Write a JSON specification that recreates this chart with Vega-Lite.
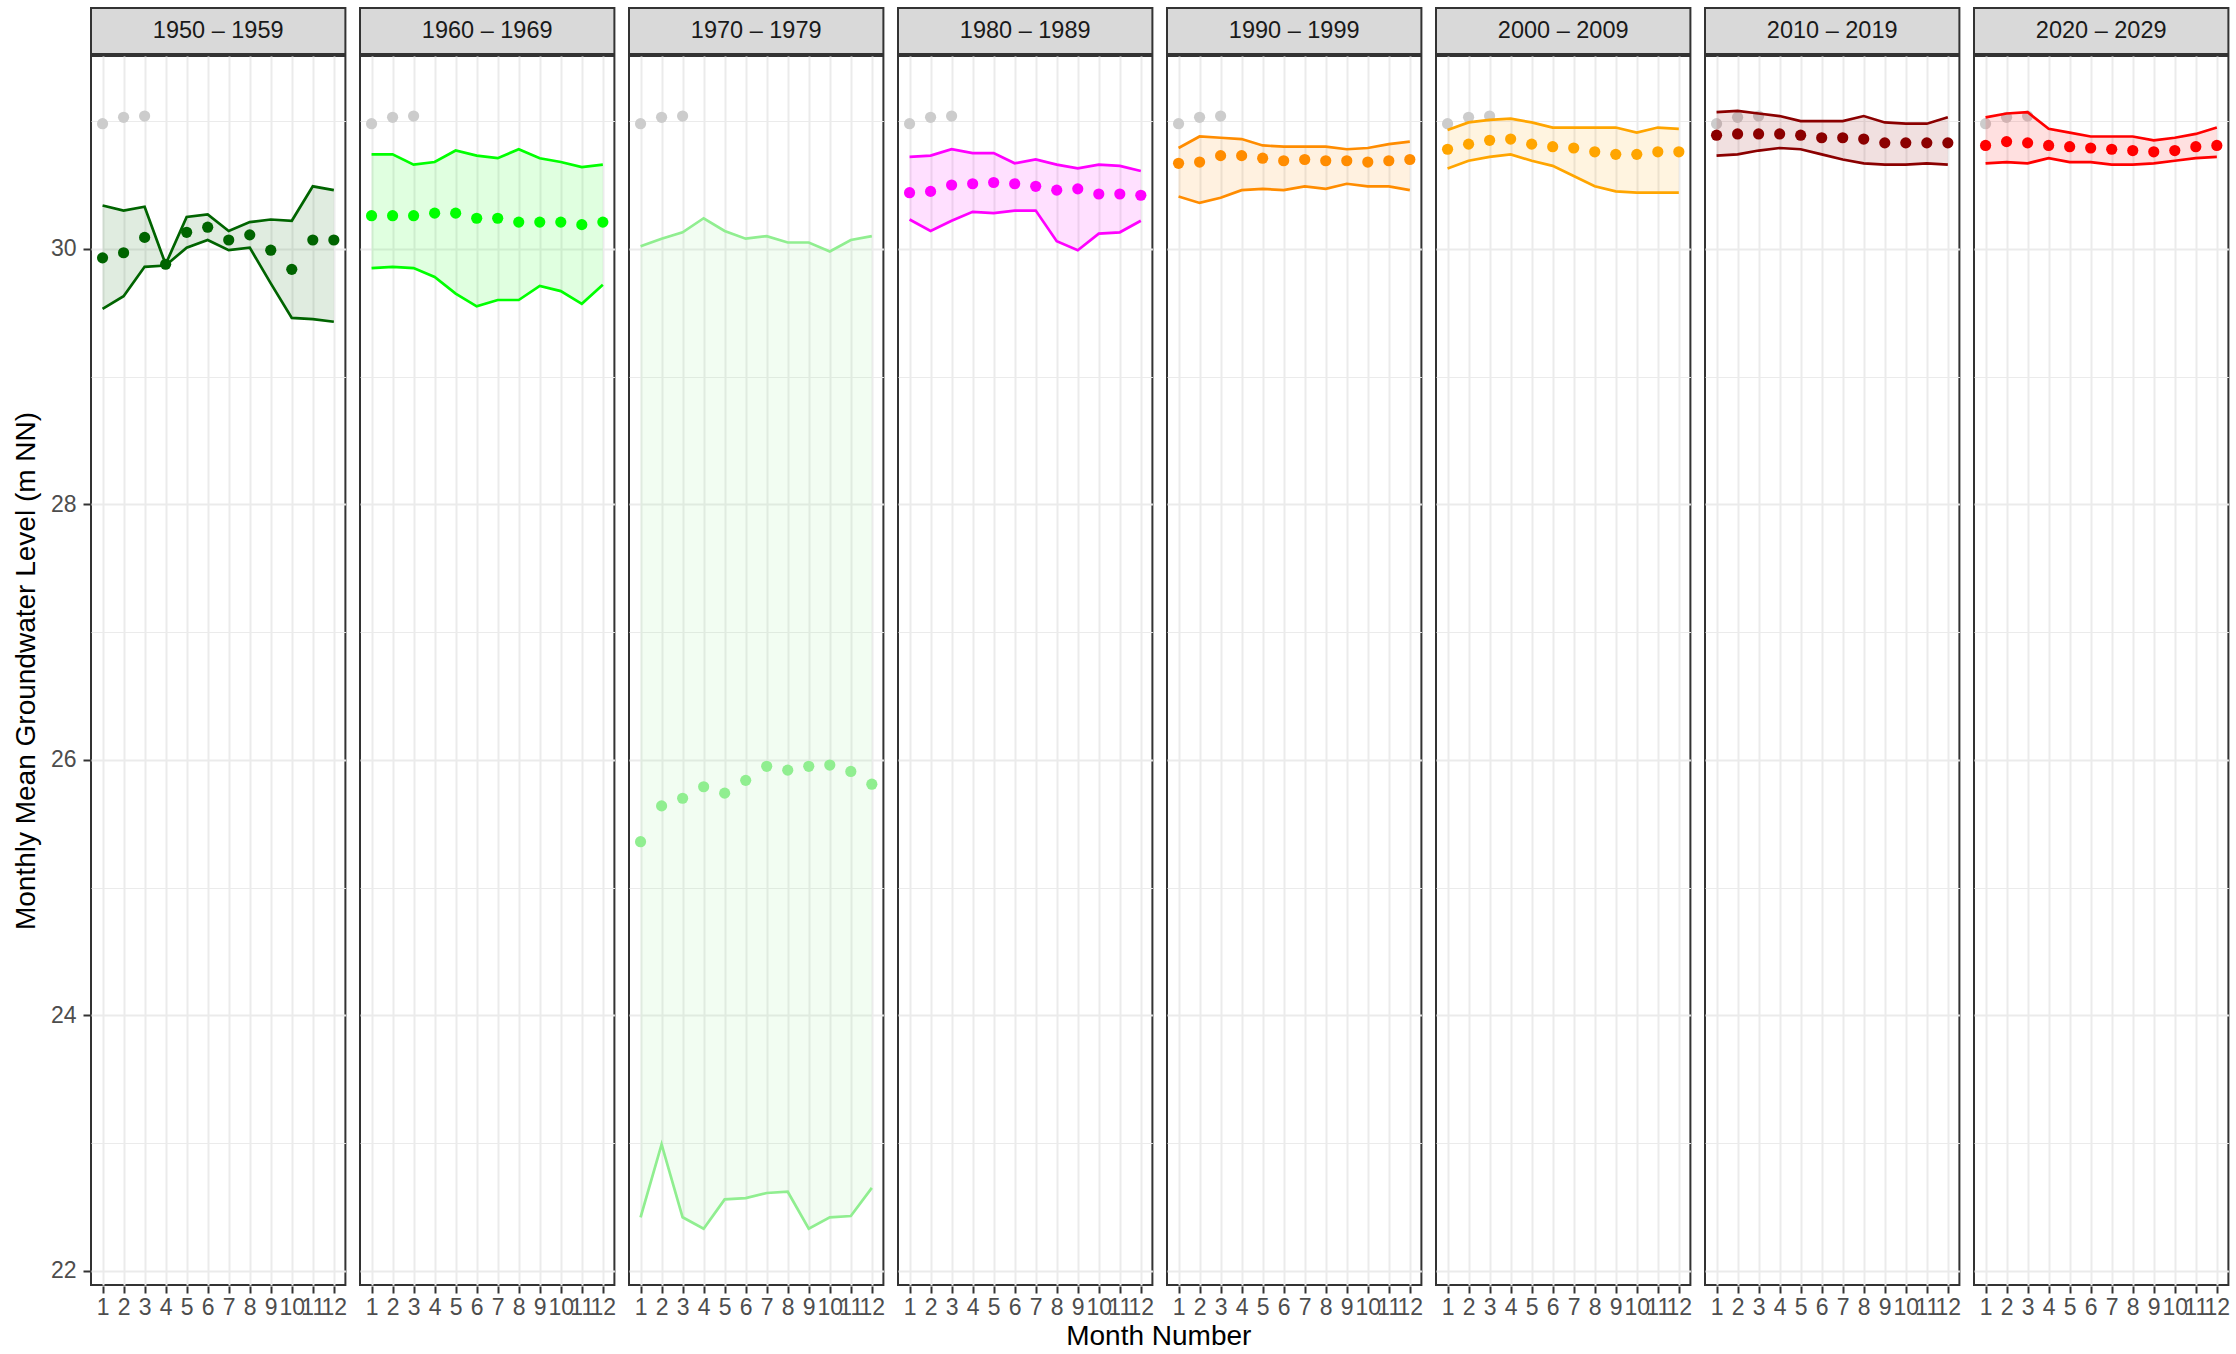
{
  "$schema": "https://vega.github.io/schema/vega-lite/v6.json",
  "padding": {"left": 12, "top": 7, "right": 5, "bottom": 4},
  "config": {"font": "Liberation Sans"},
  "title": {"text": "Month Number", "orient": "bottom", "anchor": "middle", "fontSize": 28, "fontWeight": "normal", "color": "#000000", "font": "Liberation Sans", "offset": 4, "dx": 38},
  "spacing": 0,
  "datasets": {
    "strips": [
      {"decade": "1950 – 1959"}, {"decade": "1960 – 1969"}, {"decade": "1970 – 1979"}, {"decade": "1980 – 1989"},
      {"decade": "1990 – 1999"}, {"decade": "2000 – 2009"}, {"decade": "2010 – 2019"}, {"decade": "2020 – 2029"}
    ],
    "gw": [
      {"decade": "1950 – 1959", "month": 1, "mean": 29.93, "lo": 29.53, "hi": 30.34, "cur": 30.98},
      {"decade": "1950 – 1959", "month": 2, "mean": 29.97, "lo": 29.63, "hi": 30.30, "cur": 31.03},
      {"decade": "1950 – 1959", "month": 3, "mean": 30.09, "lo": 29.86, "hi": 30.33, "cur": 31.04},
      {"decade": "1950 – 1959", "month": 4, "mean": 29.88, "lo": 29.87, "hi": 29.88, "cur": null},
      {"decade": "1950 – 1959", "month": 5, "mean": 30.13, "lo": 30.01, "hi": 30.25, "cur": null},
      {"decade": "1950 – 1959", "month": 6, "mean": 30.17, "lo": 30.07, "hi": 30.27, "cur": null},
      {"decade": "1950 – 1959", "month": 7, "mean": 30.07, "lo": 29.99, "hi": 30.14, "cur": null},
      {"decade": "1950 – 1959", "month": 8, "mean": 30.11, "lo": 30.01, "hi": 30.21, "cur": null},
      {"decade": "1950 – 1959", "month": 9, "mean": 29.99, "lo": 29.73, "hi": 30.23, "cur": null},
      {"decade": "1950 – 1959", "month": 10, "mean": 29.84, "lo": 29.46, "hi": 30.22, "cur": null},
      {"decade": "1950 – 1959", "month": 11, "mean": 30.07, "lo": 29.45, "hi": 30.49, "cur": null},
      {"decade": "1950 – 1959", "month": 12, "mean": 30.07, "lo": 29.43, "hi": 30.46, "cur": null},
      {"decade": "1960 – 1969", "month": 1, "mean": 30.26, "lo": 29.85, "hi": 30.74, "cur": 30.98},
      {"decade": "1960 – 1969", "month": 2, "mean": 30.26, "lo": 29.86, "hi": 30.74, "cur": 31.03},
      {"decade": "1960 – 1969", "month": 3, "mean": 30.26, "lo": 29.85, "hi": 30.66, "cur": 31.04},
      {"decade": "1960 – 1969", "month": 4, "mean": 30.28, "lo": 29.78, "hi": 30.68, "cur": null},
      {"decade": "1960 – 1969", "month": 5, "mean": 30.28, "lo": 29.65, "hi": 30.77, "cur": null},
      {"decade": "1960 – 1969", "month": 6, "mean": 30.24, "lo": 29.55, "hi": 30.73, "cur": null},
      {"decade": "1960 – 1969", "month": 7, "mean": 30.24, "lo": 29.60, "hi": 30.71, "cur": null},
      {"decade": "1960 – 1969", "month": 8, "mean": 30.21, "lo": 29.60, "hi": 30.78, "cur": null},
      {"decade": "1960 – 1969", "month": 9, "mean": 30.21, "lo": 29.71, "hi": 30.71, "cur": null},
      {"decade": "1960 – 1969", "month": 10, "mean": 30.21, "lo": 29.67, "hi": 30.68, "cur": null},
      {"decade": "1960 – 1969", "month": 11, "mean": 30.19, "lo": 29.57, "hi": 30.64, "cur": null},
      {"decade": "1960 – 1969", "month": 12, "mean": 30.21, "lo": 29.72, "hi": 30.66, "cur": null},
      {"decade": "1970 – 1979", "month": 1, "mean": 25.36, "lo": 22.42, "hi": 30.02, "cur": 30.98},
      {"decade": "1970 – 1979", "month": 2, "mean": 25.64, "lo": 22.99, "hi": 30.08, "cur": 31.03},
      {"decade": "1970 – 1979", "month": 3, "mean": 25.70, "lo": 22.42, "hi": 30.13, "cur": 31.04},
      {"decade": "1970 – 1979", "month": 4, "mean": 25.79, "lo": 22.33, "hi": 30.24, "cur": null},
      {"decade": "1970 – 1979", "month": 5, "mean": 25.74, "lo": 22.56, "hi": 30.14, "cur": null},
      {"decade": "1970 – 1979", "month": 6, "mean": 25.84, "lo": 22.57, "hi": 30.08, "cur": null},
      {"decade": "1970 – 1979", "month": 7, "mean": 25.95, "lo": 22.61, "hi": 30.10, "cur": null},
      {"decade": "1970 – 1979", "month": 8, "mean": 25.92, "lo": 22.62, "hi": 30.05, "cur": null},
      {"decade": "1970 – 1979", "month": 9, "mean": 25.95, "lo": 22.33, "hi": 30.05, "cur": null},
      {"decade": "1970 – 1979", "month": 10, "mean": 25.96, "lo": 22.42, "hi": 29.98, "cur": null},
      {"decade": "1970 – 1979", "month": 11, "mean": 25.91, "lo": 22.43, "hi": 30.07, "cur": null},
      {"decade": "1970 – 1979", "month": 12, "mean": 25.81, "lo": 22.65, "hi": 30.10, "cur": null},
      {"decade": "1980 – 1989", "month": 1, "mean": 30.44, "lo": 30.23, "hi": 30.72, "cur": 30.98},
      {"decade": "1980 – 1989", "month": 2, "mean": 30.45, "lo": 30.14, "hi": 30.73, "cur": 31.03},
      {"decade": "1980 – 1989", "month": 3, "mean": 30.50, "lo": 30.22, "hi": 30.78, "cur": 31.04},
      {"decade": "1980 – 1989", "month": 4, "mean": 30.51, "lo": 30.29, "hi": 30.75, "cur": null},
      {"decade": "1980 – 1989", "month": 5, "mean": 30.52, "lo": 30.28, "hi": 30.75, "cur": null},
      {"decade": "1980 – 1989", "month": 6, "mean": 30.51, "lo": 30.30, "hi": 30.67, "cur": null},
      {"decade": "1980 – 1989", "month": 7, "mean": 30.49, "lo": 30.30, "hi": 30.70, "cur": null},
      {"decade": "1980 – 1989", "month": 8, "mean": 30.46, "lo": 30.06, "hi": 30.66, "cur": null},
      {"decade": "1980 – 1989", "month": 9, "mean": 30.47, "lo": 29.99, "hi": 30.63, "cur": null},
      {"decade": "1980 – 1989", "month": 10, "mean": 30.43, "lo": 30.12, "hi": 30.66, "cur": null},
      {"decade": "1980 – 1989", "month": 11, "mean": 30.43, "lo": 30.13, "hi": 30.65, "cur": null},
      {"decade": "1980 – 1989", "month": 12, "mean": 30.42, "lo": 30.22, "hi": 30.61, "cur": null},
      {"decade": "1990 – 1999", "month": 1, "mean": 30.67, "lo": 30.41, "hi": 30.79, "cur": 30.98},
      {"decade": "1990 – 1999", "month": 2, "mean": 30.68, "lo": 30.36, "hi": 30.88, "cur": 31.03},
      {"decade": "1990 – 1999", "month": 3, "mean": 30.73, "lo": 30.40, "hi": 30.87, "cur": 31.04},
      {"decade": "1990 – 1999", "month": 4, "mean": 30.73, "lo": 30.46, "hi": 30.86, "cur": null},
      {"decade": "1990 – 1999", "month": 5, "mean": 30.71, "lo": 30.47, "hi": 30.81, "cur": null},
      {"decade": "1990 – 1999", "month": 6, "mean": 30.69, "lo": 30.46, "hi": 30.80, "cur": null},
      {"decade": "1990 – 1999", "month": 7, "mean": 30.70, "lo": 30.49, "hi": 30.80, "cur": null},
      {"decade": "1990 – 1999", "month": 8, "mean": 30.69, "lo": 30.47, "hi": 30.80, "cur": null},
      {"decade": "1990 – 1999", "month": 9, "mean": 30.69, "lo": 30.51, "hi": 30.78, "cur": null},
      {"decade": "1990 – 1999", "month": 10, "mean": 30.68, "lo": 30.49, "hi": 30.79, "cur": null},
      {"decade": "1990 – 1999", "month": 11, "mean": 30.69, "lo": 30.49, "hi": 30.82, "cur": null},
      {"decade": "1990 – 1999", "month": 12, "mean": 30.70, "lo": 30.46, "hi": 30.84, "cur": null},
      {"decade": "2000 – 2009", "month": 1, "mean": 30.78, "lo": 30.63, "hi": 30.93, "cur": 30.98},
      {"decade": "2000 – 2009", "month": 2, "mean": 30.82, "lo": 30.69, "hi": 30.99, "cur": 31.03},
      {"decade": "2000 – 2009", "month": 3, "mean": 30.85, "lo": 30.72, "hi": 31.01, "cur": 31.04},
      {"decade": "2000 – 2009", "month": 4, "mean": 30.86, "lo": 30.74, "hi": 31.02, "cur": null},
      {"decade": "2000 – 2009", "month": 5, "mean": 30.82, "lo": 30.69, "hi": 30.99, "cur": null},
      {"decade": "2000 – 2009", "month": 6, "mean": 30.80, "lo": 30.65, "hi": 30.95, "cur": null},
      {"decade": "2000 – 2009", "month": 7, "mean": 30.79, "lo": 30.57, "hi": 30.95, "cur": null},
      {"decade": "2000 – 2009", "month": 8, "mean": 30.76, "lo": 30.49, "hi": 30.95, "cur": null},
      {"decade": "2000 – 2009", "month": 9, "mean": 30.74, "lo": 30.45, "hi": 30.95, "cur": null},
      {"decade": "2000 – 2009", "month": 10, "mean": 30.74, "lo": 30.44, "hi": 30.91, "cur": null},
      {"decade": "2000 – 2009", "month": 11, "mean": 30.76, "lo": 30.44, "hi": 30.95, "cur": null},
      {"decade": "2000 – 2009", "month": 12, "mean": 30.76, "lo": 30.44, "hi": 30.94, "cur": null},
      {"decade": "2010 – 2019", "month": 1, "mean": 30.89, "lo": 30.73, "hi": 31.07, "cur": 30.98},
      {"decade": "2010 – 2019", "month": 2, "mean": 30.90, "lo": 30.74, "hi": 31.08, "cur": 31.03},
      {"decade": "2010 – 2019", "month": 3, "mean": 30.90, "lo": 30.77, "hi": 31.06, "cur": 31.04},
      {"decade": "2010 – 2019", "month": 4, "mean": 30.90, "lo": 30.79, "hi": 31.04, "cur": null},
      {"decade": "2010 – 2019", "month": 5, "mean": 30.89, "lo": 30.78, "hi": 31.00, "cur": null},
      {"decade": "2010 – 2019", "month": 6, "mean": 30.87, "lo": 30.74, "hi": 31.00, "cur": null},
      {"decade": "2010 – 2019", "month": 7, "mean": 30.87, "lo": 30.70, "hi": 31.00, "cur": null},
      {"decade": "2010 – 2019", "month": 8, "mean": 30.86, "lo": 30.67, "hi": 31.04, "cur": null},
      {"decade": "2010 – 2019", "month": 9, "mean": 30.83, "lo": 30.66, "hi": 30.99, "cur": null},
      {"decade": "2010 – 2019", "month": 10, "mean": 30.83, "lo": 30.66, "hi": 30.98, "cur": null},
      {"decade": "2010 – 2019", "month": 11, "mean": 30.83, "lo": 30.67, "hi": 30.98, "cur": null},
      {"decade": "2010 – 2019", "month": 12, "mean": 30.83, "lo": 30.66, "hi": 31.03, "cur": null},
      {"decade": "2020 – 2029", "month": 1, "mean": 30.81, "lo": 30.67, "hi": 31.03, "cur": 30.98},
      {"decade": "2020 – 2029", "month": 2, "mean": 30.84, "lo": 30.68, "hi": 31.06, "cur": 31.03},
      {"decade": "2020 – 2029", "month": 3, "mean": 30.83, "lo": 30.67, "hi": 31.07, "cur": 31.04},
      {"decade": "2020 – 2029", "month": 4, "mean": 30.81, "lo": 30.71, "hi": 30.94, "cur": null},
      {"decade": "2020 – 2029", "month": 5, "mean": 30.80, "lo": 30.68, "hi": 30.91, "cur": null},
      {"decade": "2020 – 2029", "month": 6, "mean": 30.79, "lo": 30.68, "hi": 30.88, "cur": null},
      {"decade": "2020 – 2029", "month": 7, "mean": 30.78, "lo": 30.66, "hi": 30.88, "cur": null},
      {"decade": "2020 – 2029", "month": 8, "mean": 30.77, "lo": 30.66, "hi": 30.88, "cur": null},
      {"decade": "2020 – 2029", "month": 9, "mean": 30.76, "lo": 30.67, "hi": 30.85, "cur": null},
      {"decade": "2020 – 2029", "month": 10, "mean": 30.77, "lo": 30.69, "hi": 30.87, "cur": null},
      {"decade": "2020 – 2029", "month": 11, "mean": 30.80, "lo": 30.71, "hi": 30.90, "cur": null},
      {"decade": "2020 – 2029", "month": 12, "mean": 30.81, "lo": 30.72, "hi": 30.95, "cur": null}
    ]
  },
  "vconcat": [
    {
      "data": {"name": "strips"},
      "facet": {"column": {"field": "decade", "type": "nominal", "header": {"labels": false, "title": null}}},
      "spacing": 12,
      "spec": {
        "width": 254.4,
        "height": 46,
        "view": {"fill": "#D9D9D9", "stroke": "#333333", "strokeWidth": 2},
        "layer": [
          {
            "mark": {"type": "point", "opacity": 0},
            "encoding": {
              "y": {
                "datum": 26.7, "type": "quantitative",
                "scale": {"domain": [21.89, 31.51], "nice": false, "zero": false},
                "axis": {
                  "values": [26.7], "labelExpr": "'30'", "grid": false, "domain": false,
                  "ticks": true, "tickColor": "transparent", "tickSize": 7, "tickWidth": 2,
                  "labelFontSize": 23, "labelColor": "transparent", "labelPadding": 7, "labelOverlap": false,
                  "title": "X", "titleFontSize": 28, "titleFontWeight": "normal", "titleColor": "transparent",
                  "titlePadding": 10, "minExtent": 40, "maxExtent": 40
                }
              }
            }
          },
          {
            "mark": {"type": "text", "fontSize": 23.5, "color": "#1A1A1A", "font": "Liberation Sans", "baseline": "middle", "align": "center"},
            "encoding": {"text": {"field": "decade", "type": "nominal"}}
          }
        ]
      }
    },
    {
      "data": {"name": "gw"},
      "facet": {"column": {"field": "decade", "type": "nominal", "header": {"labels": false, "title": null}}},
      "spacing": 12,
      "spec": {
        "width": 254.4,
        "height": 1229,
        "view": {"fill": "#FFFFFF", "stroke": "#333333", "strokeWidth": 2},
        "encoding": {
          "x": {
            "field": "month", "type": "quantitative",
            "scale": {"domain": [0.45, 12.55], "nice": false, "zero": false},
            "axis": {
              "values": [1, 2, 3, 4, 5, 6, 7, 8, 9, 10, 11, 12], "format": "d", "title": null,
              "grid": true, "gridColor": "#EBEBEB", "gridWidth": 2, "domain": false,
              "tickColor": "#333333", "tickWidth": 2, "tickSize": 7,
              "labelFontSize": 23, "labelColor": "#4D4D4D", "labelPadding": 3,
              "labelOverlap": false, "labelFlush": false, "labelBound": false
            }
          }
        },
        "layer": [
          {
            "mark": {"type": "point", "filled": true, "size": 125, "opacity": 1, "color": "#CCCCCC"},
            "encoding": {
              "y": {
                "field": "cur", "type": "quantitative", "title": "Monthly Mean Groundwater Level (m NN)",
                "scale": {"domain": [21.89, 31.51], "nice": false, "zero": false},
                "axis": {
                  "values": [22, 23, 24, 25, 26, 27, 28, 29, 30, 31],
                  "format": "d",
                  "labelExpr": "datum.value % 2 == 0 ? datum.label : ''",
                  "grid": true, "gridColor": "#EBEBEB",
                  "gridWidth": {"condition": {"test": "datum.value % 2 == 1", "value": 1}, "value": 2},
                  "domain": false,
                  "tickColor": "#333333", "tickWidth": 2, "tickSize": 7,
                  "tickOpacity": {"condition": {"test": "datum.value % 2 == 1", "value": 0}, "value": 1},
                  "labelFontSize": 23, "labelColor": "#4D4D4D", "labelPadding": 7, "labelOverlap": false,
                  "titleFontSize": 28, "titleFontWeight": "normal", "titleColor": "#000000",
                  "titlePadding": 10, "minExtent": 40, "maxExtent": 40
                }
              }
            }
          },
          {
            "mark": {"type": "area", "opacity": 0.12},
            "encoding": {
              "y": {"field": "lo", "type": "quantitative", "title": "Monthly Mean Groundwater Level (m NN)"},
              "y2": {"field": "hi"},
              "color": {"field": "decade", "type": "nominal", "legend": null,
                "scale": {"domain": ["1950 – 1959", "1960 – 1969", "1970 – 1979", "1980 – 1989", "1990 – 1999", "2000 – 2009", "2010 – 2019", "2020 – 2029"],
                          "range": ["#006400", "#00FF00", "#90EE90", "#FF00FF", "#FF8C00", "#FFA500", "#8B0000", "#FF0000"]}}
            }
          },
          {
            "mark": {"type": "line", "strokeWidth": 2.7},
            "encoding": {
              "y": {"field": "lo", "type": "quantitative", "title": "Monthly Mean Groundwater Level (m NN)"},
              "color": {"field": "decade", "type": "nominal", "legend": null}
            }
          },
          {
            "mark": {"type": "line", "strokeWidth": 2.7},
            "encoding": {
              "y": {"field": "hi", "type": "quantitative", "title": "Monthly Mean Groundwater Level (m NN)"},
              "color": {"field": "decade", "type": "nominal", "legend": null}
            }
          },
          {
            "mark": {"type": "point", "filled": true, "size": 125, "opacity": 1},
            "encoding": {
              "y": {"field": "mean", "type": "quantitative", "title": "Monthly Mean Groundwater Level (m NN)"},
              "color": {"field": "decade", "type": "nominal", "legend": null}
            }
          }
        ]
      }
    }
  ]
}
